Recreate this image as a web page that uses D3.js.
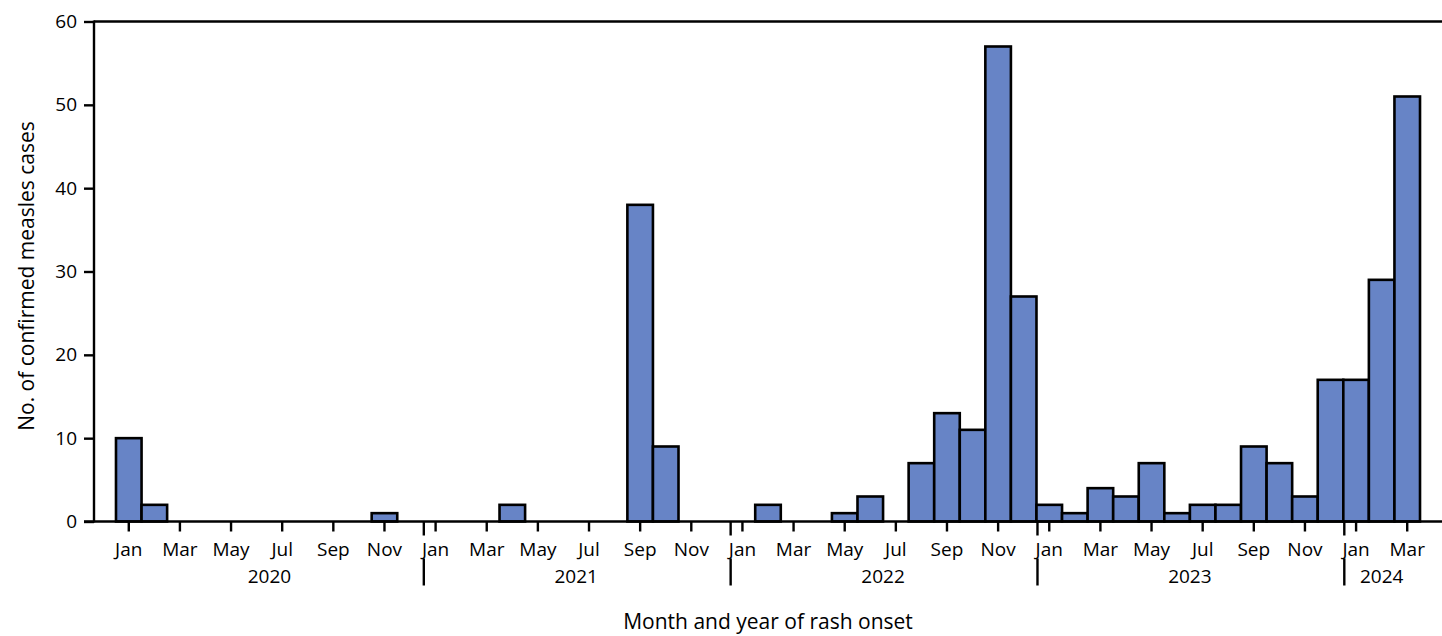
<!DOCTYPE html>
<html>
<head>
<meta charset="utf-8">
<script src="https://cdn.jsdelivr.net/npm/d3@7"></script>
<style>
  html, body { margin: 0; padding: 0; background: #fff; }
  svg { display: block; }
  text { font-family: "Open Sans", "Noto Sans", sans-serif; fill: #000; }
</style>
</head>
<body>
<svg id="chart" width="1442" height="636"></svg>
<script>
// ---- Data ----
const years = [2020, 2021, 2022, 2023, 2024];
const monthNames = ["Jan","Feb","Mar","Apr","May","Jun","Jul","Aug","Sep","Oct","Nov","Dec"];
const cases2020 = [10, 2, 0, 0, 0, 0, 0, 0, 0, 0, 1, 0];
const cases2021 = [0, 0, 0, 2, 0, 0, 0, 0, 38, 9, 0, 0];
const cases2022 = [0, 2, 0, 0, 1, 3, 0, 7, 13, 11, 57, 27];
const cases2023 = [2, 1, 4, 3, 7, 1, 2, 2, 9, 7, 3, 17];
const cases2024 = [17, 29, 51];
const yTicks = [0, 10, 20, 30, 40, 50, 60];
const yTitle = "No. of confirmed measles cases";
const xTitle = "Month and year of rash onset";

(function () {
const seriesByYear = [cases2020, cases2021, cases2022, cases2023, cases2024];
const data = [];
seriesByYear.forEach((arr, yi) => arr.forEach((v, mi) => data.push({
  year: years[yi], month: mi, label: monthNames[mi], value: v, idx: data.length
})));

// ---- Layout ----
const svg = d3.select("#chart");
const pL = 94, pR = 1442, pT = 21.5, pB = 521.5;
const FS = 19;
const SW = 2.4;

const x = d3.scaleBand().domain(data.map(d => d.idx)).range([pL, pR])
  .paddingInner(0).paddingOuter(0.86);
const y = d3.scaleLinear().domain([0, 60]).range([pB, pT]);

// Bars
svg.append("g").selectAll("rect").data(data.filter(d => d.value > 0)).join("rect")
  .attr("x", d => x(d.idx))
  .attr("y", d => y(d.value))
  .attr("width", x.bandwidth())
  .attr("height", d => y(0) - y(d.value))
  .attr("fill", "#6784c6")
  .attr("stroke", "#000")
  .attr("stroke-width", 2.6);

// Frame lines: top and y axis
svg.append("line").attr("x1", pL).attr("x2", pR).attr("y1", y(60)).attr("y2", y(60))
  .attr("stroke", "#000").attr("stroke-width", SW);
svg.append("line").attr("x1", pL).attr("x2", pL).attr("y1", y(60) - 1).attr("y2", y(0) + 1)
  .attr("stroke", "#000").attr("stroke-width", SW);
svg.append("line").attr("x1", pL - 10).attr("x2", pR).attr("y1", y(0)).attr("y2", y(0))
  .attr("stroke", "#000").attr("stroke-width", SW);

// Y axis
const yAxis = svg.append("g").attr("transform", `translate(${pL},0)`)
  .call(d3.axisLeft(y).tickValues(yTicks).tickSize(10).tickPadding(7));
yAxis.select(".domain").remove();
yAxis.selectAll(".tick line").attr("stroke", "#000").attr("stroke-width", SW);
yAxis.selectAll(".tick text").style("font-size", FS + "px").attr("fill", "#000")
  .style("font-family", '"Open Sans", sans-serif');

// X axis (odd months labelled)
const xAxis = svg.append("g").attr("transform", `translate(0,${pB})`)
  .call(d3.axisBottom(x)
    .tickValues(data.filter(d => d.month % 2 === 0).map(d => d.idx))
    .tickFormat(i => data[i].label)
    .tickSize(10).tickPadding(11));
xAxis.select(".domain").remove();
xAxis.selectAll(".tick line").attr("stroke", "#000").attr("stroke-width", SW);
xAxis.selectAll(".tick text").style("font-size", FS + "px").attr("fill", "#000")
  .style("font-family", '"Open Sans", sans-serif');

// Year separators and year labels
years.forEach((yr, yi) => {
  const items = data.filter(d => d.year === yr);
  const first = items[0], last = items[items.length - 1];
  if (yi > 0) {
    const sx = x(first.idx) + 1;
    svg.append("line").attr("x1", sx).attr("x2", sx).attr("y1", pB).attr("y2", pB + 14)
      .attr("stroke", "#000").attr("stroke-width", SW);
    svg.append("line").attr("x1", sx).attr("x2", sx).attr("y1", pB + 37).attr("y2", pB + 64)
      .attr("stroke", "#000").attr("stroke-width", SW);
  }
  const cx = (x(first.idx) + x(last.idx) + x.bandwidth()) / 2;
  svg.append("text").attr("x", cx).attr("y", 583).attr("text-anchor", "middle")
    .style("font-size", FS + "px").text(yr);
});

// Axis titles
svg.append("text").attr("x", (pL + pR) / 2).attr("y", 629).attr("text-anchor", "middle")
  .style("font-size", "21px").text(xTitle);
svg.append("text").attr("transform", `translate(34,276) rotate(-90)`)
  .attr("text-anchor", "middle").style("font-size", "21px").text(yTitle);
})();
</script>
</body>
</html>
